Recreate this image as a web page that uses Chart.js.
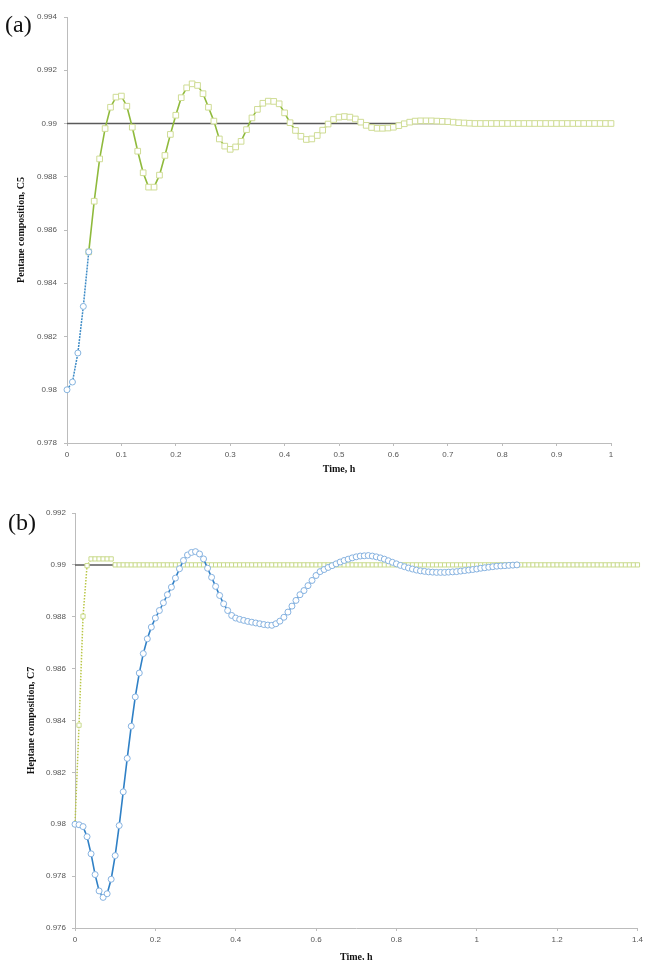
<!DOCTYPE html>
<html>
<head>
<meta charset="utf-8">
<script src="https://cdn.jsdelivr.net/npm/chart.js@4.4.1/dist/chart.umd.min.js"></script>
<style>
  body { margin: 0; background: #fff; width: 647px; height: 960px; overflow: hidden; position: relative; }
  canvas { position: absolute; left: 0; }
  #chartA { top: 0; }
  #chartB { top: 480px; }
  .panel { position: absolute; font-family: 'Liberation Serif', 'DejaVu Serif', serif; font-size: 24px; line-height: 26px; color: #111; }
</style>
</head>
<body>
<canvas id="chartA" width="647" height="480"></canvas>
<canvas id="chartB" width="647" height="500"></canvas>
<div class="panel" style="left:5px; top:11px;">(a)</div>
<div class="panel" style="left:8px; top:509px;">(b)</div>
<script>
// ---- data, panel (a): pentane composition ----
const setpointTimeA = [0, 1];
const setpointA = [0.99, 0.99];

const timeA_circ = [0, 0.01, 0.02, 0.03, 0.04];
const c5_circ = [0.98, 0.98029, 0.98138, 0.98313, 0.98518];

const timeA_sq = [0.04, 0.05, 0.06, 0.07, 0.08, 0.09, 0.10, 0.11, 0.12, 0.13, 0.14, 0.15, 0.16, 0.17, 0.18, 0.19,
  0.20, 0.21, 0.22, 0.23, 0.24, 0.25, 0.26, 0.27, 0.28, 0.29, 0.30, 0.31, 0.32, 0.33, 0.34, 0.35, 0.36, 0.37, 0.38, 0.39,
  0.40, 0.41, 0.42, 0.43, 0.44, 0.45, 0.46, 0.47, 0.48, 0.49, 0.50, 0.51, 0.52, 0.53, 0.54, 0.55, 0.56, 0.57, 0.58, 0.59,
  0.60, 0.61, 0.62, 0.63, 0.64, 0.65, 0.66, 0.67, 0.68, 0.69, 0.70, 0.71, 0.72, 0.73, 0.74, 0.75, 0.76, 0.77, 0.78, 0.79,
  0.80, 0.81, 0.82, 0.83, 0.84, 0.85, 0.86, 0.87, 0.88, 0.89, 0.90, 0.91, 0.92, 0.93, 0.94, 0.95, 0.96, 0.97, 0.98, 0.99, 1.00];
const c5_sq = [0.98518, 0.98708, 0.98867, 0.98981, 0.99061, 0.99099, 0.99103, 0.99065, 0.98986, 0.98896, 0.98815, 0.98761,
  0.98761, 0.98806, 0.9888, 0.98959, 0.99031, 0.99097, 0.99134, 0.99149, 0.99143, 0.99112, 0.99061, 0.99009, 0.98942,
  0.98915, 0.98903, 0.98912, 0.98933, 0.98977, 0.99021, 0.99053, 0.99076, 0.99084, 0.99083, 0.99074, 0.9904, 0.99003,
  0.98974, 0.98952, 0.9894, 0.98942, 0.98955, 0.98975, 0.98998, 0.99015, 0.99024, 0.99026, 0.99024, 0.99017, 0.99005,
  0.98993, 0.98985, 0.98982, 0.98982, 0.98983, 0.98986, 0.98992, 0.98999, 0.99005, 0.99009, 0.9901, 0.9901, 0.9901,
  0.99009, 0.99008, 0.99007, 0.99005, 0.99003, 0.99002, 0.99001, 0.99, 0.99, 0.99, 0.99, 0.99, 0.99, 0.99, 0.99, 0.99,
  0.99, 0.99, 0.99, 0.99, 0.99, 0.99, 0.99, 0.99, 0.99, 0.99, 0.99, 0.99, 0.99, 0.99, 0.99, 0.99, 0.99];

// ---- data, panel (b): heptane composition ----
const setpointTimeB = [0, 1.4];
const setpointB = [0.99, 0.99];

const timeB_sq = [0, 0.01, 0.02, 0.03, 0.04, 0.05, 0.06, 0.07, 0.08, 0.09, 0.10, 0.11, 0.12, 0.13, 0.14, 0.15, 0.16, 0.17, 0.18, 0.19,
  0.20, 0.21, 0.22, 0.23, 0.24, 0.25, 0.26, 0.27, 0.28, 0.29, 0.30, 0.31, 0.32, 0.33, 0.34, 0.35, 0.36, 0.37, 0.38, 0.39,
  0.40, 0.41, 0.42, 0.43, 0.44, 0.45, 0.46, 0.47, 0.48, 0.49, 0.50, 0.51, 0.52, 0.53, 0.54, 0.55, 0.56, 0.57, 0.58, 0.59,
  0.60, 0.61, 0.62, 0.63, 0.64, 0.65, 0.66, 0.67, 0.68, 0.69, 0.70, 0.71, 0.72, 0.73, 0.74, 0.75, 0.76, 0.77, 0.78, 0.79,
  0.80, 0.81, 0.82, 0.83, 0.84, 0.85, 0.86, 0.87, 0.88, 0.89, 0.90, 0.91, 0.92, 0.93, 0.94, 0.95, 0.96, 0.97, 0.98, 0.99,
  1.00, 1.01, 1.02, 1.03, 1.04, 1.05, 1.06, 1.07, 1.08, 1.09, 1.10, 1.11, 1.12, 1.13, 1.14, 1.15, 1.16, 1.17, 1.18, 1.19,
  1.20, 1.21, 1.22, 1.23, 1.24, 1.25, 1.26, 1.27, 1.28, 1.29, 1.30, 1.31, 1.32, 1.33, 1.34, 1.35, 1.36, 1.37, 1.38, 1.39, 1.40];
const c7_sq = [0.98, 0.98382, 0.98802, 0.98997, 0.99023, 0.99023, 0.99023, 0.99023, 0.99023, 0.99023,
  0.99, 0.99, 0.99, 0.99, 0.99, 0.99, 0.99, 0.99, 0.99, 0.99, 0.99, 0.99, 0.99, 0.99, 0.99, 0.99, 0.99, 0.99, 0.99, 0.99,
  0.99, 0.99, 0.99, 0.99, 0.99, 0.99, 0.99, 0.99, 0.99, 0.99, 0.99, 0.99, 0.99, 0.99, 0.99, 0.99, 0.99, 0.99, 0.99, 0.99,
  0.99, 0.99, 0.99, 0.99, 0.99, 0.99, 0.99, 0.99, 0.99, 0.99, 0.99, 0.99, 0.99, 0.99, 0.99, 0.99, 0.99, 0.99, 0.99, 0.99,
  0.99, 0.99, 0.99, 0.99, 0.99, 0.99, 0.99, 0.99, 0.99, 0.99, 0.99, 0.99, 0.99, 0.99, 0.99, 0.99, 0.99, 0.99, 0.99, 0.99,
  0.99, 0.99, 0.99, 0.99, 0.99, 0.99, 0.99, 0.99, 0.99, 0.99, 0.99, 0.99, 0.99, 0.99, 0.99, 0.99, 0.99, 0.99, 0.99, 0.99,
  0.99, 0.99, 0.99, 0.99, 0.99, 0.99, 0.99, 0.99, 0.99, 0.99, 0.99, 0.99, 0.99, 0.99, 0.99, 0.99, 0.99, 0.99, 0.99, 0.99,
  0.99, 0.99, 0.99, 0.99, 0.99, 0.99, 0.99, 0.99, 0.99, 0.99, 0.99];

const timeB_circ = [0, 0.01, 0.02, 0.03, 0.04, 0.05, 0.06, 0.07, 0.08, 0.09, 0.10, 0.11, 0.12, 0.13, 0.14, 0.15, 0.16, 0.17, 0.18, 0.19,
  0.20, 0.21, 0.22, 0.23, 0.24, 0.25, 0.26, 0.27, 0.28, 0.29, 0.30, 0.31, 0.32, 0.33, 0.34, 0.35, 0.36, 0.37, 0.38, 0.39,
  0.40, 0.41, 0.42, 0.43, 0.44, 0.45, 0.46, 0.47, 0.48, 0.49, 0.50, 0.51, 0.52, 0.53, 0.54, 0.55, 0.56, 0.57, 0.58, 0.59,
  0.60, 0.61, 0.62, 0.63, 0.64, 0.65, 0.66, 0.67, 0.68, 0.69, 0.70, 0.71, 0.72, 0.73, 0.74, 0.75, 0.76, 0.77, 0.78, 0.79,
  0.80, 0.81, 0.82, 0.83, 0.84, 0.85, 0.86, 0.87, 0.88, 0.89, 0.90, 0.91, 0.92, 0.93, 0.94, 0.95, 0.96, 0.97, 0.98, 0.99,
  1.00, 1.01, 1.02, 1.03, 1.04, 1.05, 1.06, 1.07, 1.08, 1.09, 1.10];
const c7_circ = [0.98, 0.97998, 0.97991, 0.97952, 0.97886, 0.97806, 0.97743, 0.97718, 0.97732, 0.97788,
  0.97879, 0.97995, 0.98125, 0.98254, 0.98378, 0.98491, 0.98583, 0.98658, 0.98715, 0.9876,
  0.98795, 0.98824, 0.98854, 0.98885, 0.98914, 0.98949, 0.98985, 0.99017, 0.99038, 0.99048,
  0.99051, 0.99042, 0.99023, 0.98987, 0.98952, 0.98917, 0.98882, 0.9885, 0.98824, 0.98805,
  0.98795, 0.9879, 0.98786, 0.98782, 0.98779, 0.98776, 0.98773, 0.9877, 0.98768, 0.98767,
  0.98773, 0.98783, 0.98798, 0.98818, 0.98841, 0.98863, 0.98885, 0.98901, 0.9892, 0.9894,
  0.98959, 0.98974, 0.98982, 0.9899, 0.98997, 0.99004, 0.99011, 0.99017, 0.99022, 0.99027,
  0.99031, 0.99034, 0.99035, 0.99036, 0.99034, 0.99031, 0.99027, 0.99022, 0.99016, 0.9901,
  0.99004, 0.98998, 0.98993, 0.98988, 0.98984, 0.9898, 0.98977, 0.98975, 0.98973, 0.98972,
  0.98971, 0.98971, 0.98971, 0.98972, 0.98973, 0.98974, 0.98976, 0.98978, 0.9898, 0.98982,
  0.98984, 0.98987, 0.98989, 0.98991, 0.98993, 0.98995, 0.98996, 0.98997, 0.98998, 0.98999, 0.99];

// helper: pair up x and y arrays for a linear x axis
function pts(xs, ys) {
    return xs.map((x, i) => ({ x: x, y: ys[i] }));
}

const tickFont = { family: "'Liberation Sans', Arial, sans-serif", size: 8 };
const titleFont = { family: "'Liberation Serif', 'Times New Roman', serif", size: 10, weight: 'bold' };

function buildChart(id, cfg) {
    const ctx = document.getElementById(id).getContext('2d');
    return new Chart(ctx, {
        type: 'line',
        data: { datasets: cfg.datasets },
        options: {
            responsive: false,
            animation: false,
            devicePixelRatio: 1,
            layout: { padding: cfg.padding },
            plugins: { legend: { display: false }, tooltip: { enabled: false } },
            scales: {
                x: {
                    type: 'linear',
                    min: cfg.xMin, max: cfg.xMax,
                    border: { display: true, color: '#bcbcbc', width: 1 },
                    grid: { drawOnChartArea: false, drawTicks: true, tickLength: 3, color: '#bcbcbc' },
                    ticks: {
                        stepSize: cfg.xStep, padding: 4, color: '#555', font: tickFont, maxRotation: 0,
                        callback: v => String(+v.toFixed(2))
                    },
                    title: { display: true, text: 'Time, h', color: '#111', font: titleFont, padding: { top: 0, bottom: cfg.xTitlePad } },
                    afterFit: s => { s.height = cfg.xHeight; }
                },
                y: {
                    min: cfg.yMin, max: cfg.yMax,
                    border: { display: true, color: '#bcbcbc', width: 1 },
                    grid: { drawOnChartArea: false, drawTicks: true, tickLength: 3, color: '#bcbcbc' },
                    ticks: {
                        stepSize: 0.002, padding: cfg.yTickPad, color: '#555', font: tickFont,
                        callback: v => String(+v.toFixed(3))
                    },
                    title: { display: true, text: cfg.yTitle, color: '#111', font: titleFont, padding: { top: cfg.yTitlePad, bottom: 0 } },
                    afterFit: s => { s.width = cfg.yWidth; }
                }
            }
        }
    });
}

// panel (a) -- lower "order" is drawn on top
buildChart('chartA', {
    padding: { left: 0, right: 36, top: 17, bottom: 0 },
    xMin: 0, xMax: 1, xStep: 0.1, xHeight: 37, xTitlePad: 5,
    yMin: 0.978, yMax: 0.994, yWidth: 67, yTickPad: 7, yTitlePad: 15,
    yTitle: 'Pentane composition, C5',
    datasets: [
        {   // set point
            data: pts(setpointTimeA, setpointA), order: 3,
            borderColor: '#5a5a5a', borderWidth: 1.5, pointRadius: 0
        },
        {   // green squares
            data: pts(timeA_sq, c5_sq), order: 2,
            borderColor: '#8fba3c', borderWidth: 1.6,
            pointStyle: 'rect', pointRadius: 4, pointBorderWidth: 1,
            pointBorderColor: '#cfdc94', pointBackgroundColor: '#ffffff',
            clip: false
        },
        {   // blue circles
            data: pts(timeA_circ, c5_circ), order: 1,
            borderColor: '#3d8bc6', borderWidth: 1.5, borderDash: [2, 1],
            pointStyle: 'circle', pointRadius: 3, pointBorderWidth: 1,
            pointBorderColor: '#86b4de', pointBackgroundColor: '#ffffff',
            clip: false
        }
    ]
});

// panel (b)
buildChart('chartB', {
    padding: { left: 0, right: 6, top: 33, bottom: 0 },
    xMin: 0, xMax: 1.4, xStep: 0.2, xHeight: 52, xTitlePad: 17,
    yMin: 0.976, yMax: 0.992, yWidth: 75, yTickPad: 6, yTitlePad: 25,
    yTitle: 'Heptane composition, C7',
    datasets: [
        {   // set point
            data: pts(setpointTimeB, setpointB), order: 3,
            borderColor: '#5a5a5a', borderWidth: 1.5, pointRadius: 0
        },
        {   // green squares, dotted line
            data: pts(timeB_sq, c7_sq), order: 2,
            borderColor: '#b9c646', borderWidth: 1.5, borderDash: [1.5, 1.5],
            pointStyle: 'rect', pointRadius: 3, pointBorderWidth: 1,
            pointBorderColor: '#c9da8c', pointBackgroundColor: '#ffffff',
            clip: false
        },
        {   // blue circles
            data: pts(timeB_circ, c7_circ), order: 1,
            borderColor: '#2f80c6', borderWidth: 1.6,
            pointStyle: 'circle', pointRadius: 3, pointBorderWidth: 1,
            pointBorderColor: '#86b2e0', pointBackgroundColor: '#ffffff',
            clip: false
        }
    ]
});
</script>
</body>
</html>
